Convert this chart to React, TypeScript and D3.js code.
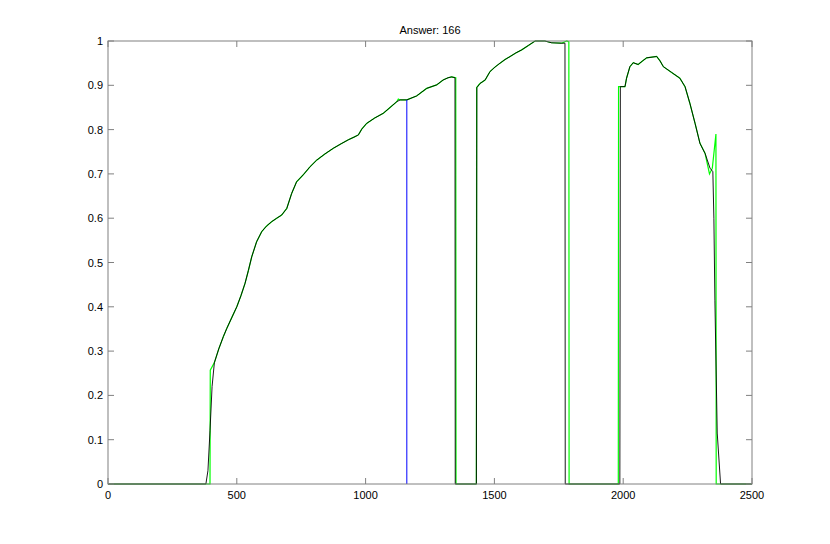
import React from "react";
import * as d3 from "d3";

const titleText = "Answer: 166";
const xTicks = [0, 500, 1000, 1500, 2000, 2500];
const yTicks = [0, 0.1, 0.2, 0.3, 0.4, 0.5, 0.6, 0.7, 0.8, 0.9, 1];

// black series
const blackX = [0, 380, 388, 396, 404, 413, 430, 448, 461, 480, 500, 516, 532, 545, 558, 577, 597, 615, 635, 655, 674, 694, 713, 732, 758, 784, 810, 842, 875, 905, 933, 955, 972, 985, 1004, 1035, 1069, 1095, 1121, 1134, 1160, 1198, 1237, 1276, 1301, 1320, 1334, 1347, 1348, 1430, 1432, 1444, 1464, 1483, 1502, 1522, 1541, 1561, 1583, 1606, 1632, 1658, 1696, 1722, 1761, 1774, 1775, 1987, 1989, 2007, 2013, 2026, 2039, 2058, 2075, 2091, 2130, 2143, 2156, 2188, 2220, 2240, 2259, 2279, 2298, 2318, 2337, 2348, 2352, 2356, 2365, 2378, 2500];
const blackY = [0, 0, 0.03, 0.12, 0.22, 0.274, 0.305, 0.333, 0.351, 0.375, 0.4, 0.425, 0.453, 0.482, 0.513, 0.547, 0.57, 0.582, 0.592, 0.6, 0.607, 0.622, 0.656, 0.682, 0.698, 0.716, 0.731, 0.745, 0.758, 0.768, 0.777, 0.783, 0.788, 0.801, 0.814, 0.826, 0.837, 0.85, 0.863, 0.867, 0.867, 0.876, 0.893, 0.901, 0.912, 0.917, 0.919, 0.917, 0, 0, 0.895, 0.904, 0.912, 0.931, 0.941, 0.95, 0.958, 0.965, 0.973, 0.98, 0.99, 1.0, 1.0, 0.996, 0.995, 0.995, 0, 0, 0.897, 0.897, 0.916, 0.942, 0.951, 0.947, 0.955, 0.962, 0.965, 0.955, 0.942, 0.929, 0.916, 0.897, 0.859, 0.814, 0.769, 0.746, 0.713, 0.705, 0.6, 0.415, 0.115, 0, 0];

// green series
const greenX = [0, 396, 397, 413, 430, 448, 461, 480, 500, 516, 532, 545, 558, 577, 597, 615, 635, 655, 674, 694, 713, 732, 758, 784, 810, 842, 875, 905, 933, 955, 972, 985, 1004, 1035, 1069, 1095, 1121, 1127, 1134, 1160, 1198, 1237, 1276, 1301, 1320, 1334, 1350, 1351, 1430, 1431, 1444, 1464, 1483, 1502, 1522, 1541, 1561, 1583, 1606, 1632, 1658, 1696, 1722, 1761, 1781, 1789, 1790, 1981, 1982, 2007, 2013, 2026, 2039, 2058, 2075, 2091, 2130, 2143, 2156, 2188, 2220, 2240, 2259, 2279, 2298, 2318, 2335, 2346, 2360, 2361, 2500];
const greenY = [0, 0, 0.257, 0.274, 0.305, 0.333, 0.351, 0.375, 0.4, 0.425, 0.453, 0.482, 0.513, 0.547, 0.57, 0.582, 0.592, 0.6, 0.607, 0.622, 0.656, 0.682, 0.698, 0.716, 0.731, 0.745, 0.758, 0.768, 0.777, 0.783, 0.788, 0.801, 0.814, 0.826, 0.837, 0.85, 0.863, 0.869, 0.867, 0.867, 0.876, 0.893, 0.901, 0.912, 0.917, 0.919, 0.917, 0, 0, 0.895, 0.904, 0.912, 0.931, 0.941, 0.95, 0.958, 0.965, 0.973, 0.98, 0.99, 1.0, 1.0, 0.996, 0.995, 1.0, 0.998, 0, 0, 0.897, 0.897, 0.916, 0.942, 0.951, 0.947, 0.955, 0.962, 0.965, 0.955, 0.942, 0.929, 0.916, 0.897, 0.859, 0.814, 0.769, 0.746, 0.7, 0.713, 0.79, 0, 0];

// blue marker line
const blueX = [1160, 1160];
const blueY = [0, 0.867];

const W = 830, H = 544;
const L = 108, R = 752, T = 41, B = 484;

export default function App() {
  const x = d3.scaleLinear().domain([0, 2500]).range([L, R]);
  const y = d3.scaleLinear().domain([0, 1]).range([B, T]);
  const line = d3.line<[number, number]>().x(d => x(d[0])).y(d => y(d[1]));
  const zip = (a: number[], b: number[]) => a.map((v, i) => [v, b[i]] as [number, number]);
  const axisColor = "#808080";
  const font = "'Liberation Sans', Arial, Helvetica, sans-serif";
  const tl = 6;
  return (
    <svg width={W} height={H} style={{ position: "absolute", left: 0, top: 0, background: "#fff" }}>
      <rect x={0} y={0} width={W} height={H} fill="#fff" />
      <path d={line(zip(greenX, greenY)) || ""} fill="none" stroke="#00ff00" strokeWidth={1.2} />
      <path d={line(zip(blackX, blackY)) || ""} fill="none" stroke="#000" strokeWidth={0.9} />
      <path d={line(zip(blueX, blueY)) || ""} fill="none" stroke="#0000ff" strokeWidth={1} />
      <rect x={L} y={T} width={R - L} height={B - T} fill="none" stroke={axisColor} strokeWidth={1} />
      {xTicks.map(t => (
        <g key={"x" + t}>
          <line x1={x(t)} x2={x(t)} y1={B} y2={B - tl} stroke={axisColor} />
          <line x1={x(t)} x2={x(t)} y1={T} y2={T + tl} stroke={axisColor} />
          <text x={x(t)} y={B + 15} textAnchor="middle" fontFamily={font} fontSize={11} fill="#000">{t}</text>
        </g>
      ))}
      {yTicks.map(t => (
        <g key={"y" + t}>
          <line x1={L} x2={L + tl} y1={y(t)} y2={y(t)} stroke={axisColor} />
          <line x1={R} x2={R - tl} y1={y(t)} y2={y(t)} stroke={axisColor} />
          <text x={L - 5} y={y(t) + 4} textAnchor="end" fontFamily={font} fontSize={11} fill="#000">{d3.format("~g")(t)}</text>
        </g>
      ))}
      <text x={(L + R) / 2} y={T - 7} textAnchor="middle" fontFamily={font} fontSize={11} fill="#000">{titleText}</text>
    </svg>
  );
}
